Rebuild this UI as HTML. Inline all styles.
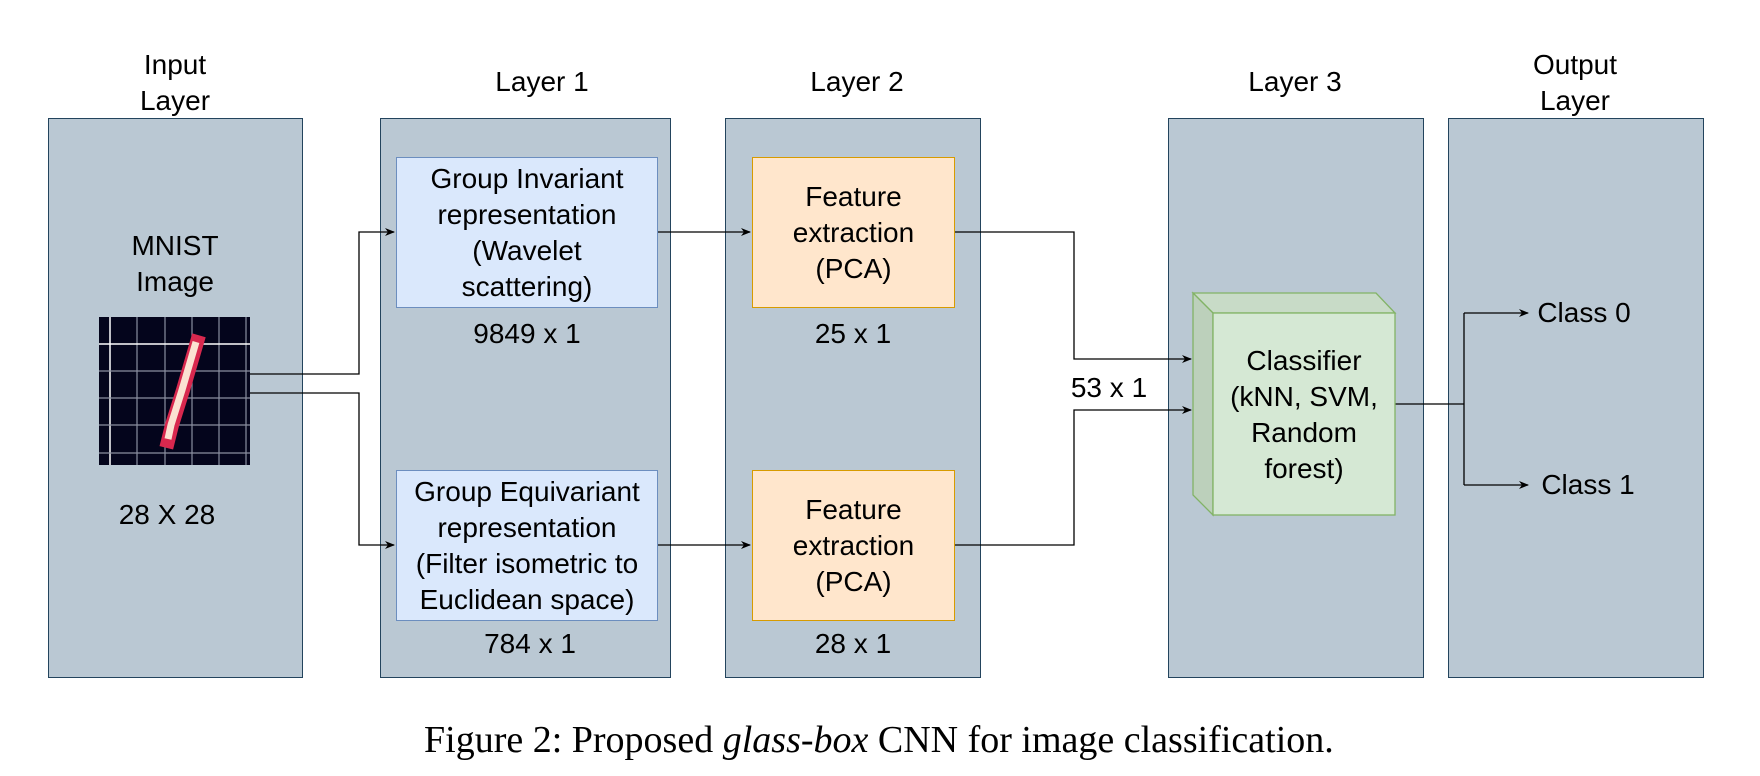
<!DOCTYPE html>
<html><head><meta charset="utf-8"><style>
html,body{margin:0;padding:0;background:#fff;}
body{width:1760px;height:776px;position:relative;overflow:hidden;font-family:"Liberation Sans",Arial,sans-serif;color:#000;}
.col{position:absolute;background:#bac8d3;border:1.5px solid #23445d;box-sizing:border-box;top:118px;height:560px;}
.t{position:absolute;text-align:center;font-size:28px;line-height:36px;white-space:nowrap;transform:translate(-50%,-50%);}
.box{position:absolute;box-sizing:border-box;display:flex;align-items:center;justify-content:center;text-align:center;font-size:28px;line-height:36px;}
.blue{background:#dae8fc;border:1.5px solid #6c8ebf;}
.orange{background:#ffe6cc;border:1.5px solid #d79b00;}
svg{position:absolute;left:0;top:0;}
</style></head><body>
<div class="col" style="left:48px;width:255px"></div>
<div class="col" style="left:380px;width:291px"></div>
<div class="col" style="left:725px;width:256px"></div>
<div class="col" style="left:1168px;width:256px"></div>
<div class="col" style="left:1448px;width:256px"></div>

<div class="t" style="left:175px;top:83px">Input<br>Layer</div>
<div class="t" style="left:542px;top:82px">Layer 1</div>
<div class="t" style="left:857px;top:82px">Layer 2</div>
<div class="t" style="left:1295px;top:82px">Layer 3</div>
<div class="t" style="left:1575px;top:83px">Output<br>Layer</div>

<div class="t" style="left:175px;top:264px">MNIST<br>Image</div>
<div class="t" style="left:167px;top:515px">28 X 28</div>

<div class="box blue" style="left:396px;top:157px;width:262px;height:151px">Group Invariant<br>representation<br>(Wavelet<br>scattering)</div>
<div class="box blue" style="left:396px;top:470px;width:262px;height:151px">Group Equivariant<br>representation<br>(Filter isometric to<br>Euclidean space)</div>
<div class="t" style="left:527px;top:334px">9849 x 1</div>
<div class="t" style="left:530px;top:644px">784 x 1</div>

<div class="box orange" style="left:752px;top:157px;width:203px;height:151px">Feature<br>extraction<br>(PCA)</div>
<div class="box orange" style="left:752px;top:470px;width:203px;height:151px">Feature<br>extraction<br>(PCA)</div>
<div class="t" style="left:853px;top:334px">25 x 1</div>
<div class="t" style="left:853px;top:644px">28 x 1</div>

<div class="t" style="left:1109px;top:388px">53 x 1</div>

<svg width="1760" height="776" viewBox="0 0 1760 776">
<defs><marker id="a" markerWidth="10" markerHeight="8" refX="9" refY="4" orient="auto" markerUnits="userSpaceOnUse"><path d="M0,0 L10,4 L0,8 L3,4 Z" fill="#000"/></marker></defs>
<rect x="99" y="317" width="151" height="148" fill="#04051c"/>
<g stroke="#8a8fa0" stroke-width="1.2">
<line x1="110" y1="317" x2="110" y2="465" stroke="#fff" stroke-width="1.5"/>
<line x1="137" y1="317" x2="137" y2="465"/><line x1="165" y1="317" x2="165" y2="465"/>
<line x1="192" y1="317" x2="192" y2="465"/><line x1="219" y1="317" x2="219" y2="465"/>
<line x1="246" y1="317" x2="246" y2="465"/>
<line x1="99" y1="344" x2="250" y2="344" stroke="#fff" stroke-width="1.5"/>
<line x1="99" y1="371" x2="250" y2="371"/><line x1="99" y1="398" x2="250" y2="398"/>
<line x1="99" y1="425" x2="250" y2="425"/><line x1="99" y1="453" x2="250" y2="453"/>
</g>
<path d="M197,342 L183,390 L172,425 L168,441" stroke="#d8284e" stroke-width="14" fill="none" stroke-linecap="square"/>
<path d="M196,342 L182,390 L171,425 L168,439" stroke="#fbe2d2" stroke-width="7" fill="none"/>
<g stroke="#000" stroke-width="1.3" fill="none">
<path d="M250,374 H359 V232 H394" marker-end="url(#a)"/>
<path d="M250,393 H359 V545 H394" marker-end="url(#a)"/>
<path d="M658,232 H750" marker-end="url(#a)"/>
<path d="M658,545 H750" marker-end="url(#a)"/>
<path d="M955,232 H1074 V359 H1191" marker-end="url(#a)"/>
<path d="M955,545 H1074 V410 H1191" marker-end="url(#a)"/>
<path d="M1395,404 H1464"/>
<path d="M1464,313 V485"/>
<path d="M1464,313 H1528" marker-end="url(#a)"/>
<path d="M1464,485 H1528" marker-end="url(#a)"/>
</g>
<path d="M1193,293 L1376,293 L1395,313 L1213,313 Z" fill="#c8dbc7" stroke="#82b366" stroke-width="1.3"/>
<path d="M1193,293 L1213,313 L1213,515 L1193,495 Z" fill="#bcd0bb" stroke="#82b366" stroke-width="1.3"/>
<rect x="1213" y="313" width="182" height="202" fill="#d5e8d4" stroke="#82b366" stroke-width="1.3"/>
</svg>
<div class="t" style="left:1304px;top:415px;line-height:36px">Classifier<br>(kNN, SVM,<br>Random<br>forest)</div>
<div class="t" style="left:1584px;top:313px">Class 0</div>
<div class="t" style="left:1588px;top:485px">Class 1</div>

<div style="position:absolute;left:424px;top:718px;width:920px;font-family:'Liberation Serif','Times New Roman',serif;font-size:38px;line-height:44px;white-space:nowrap;">Figure 2: Proposed <i>glass-box</i> CNN for image classification.</div>
</body></html>
